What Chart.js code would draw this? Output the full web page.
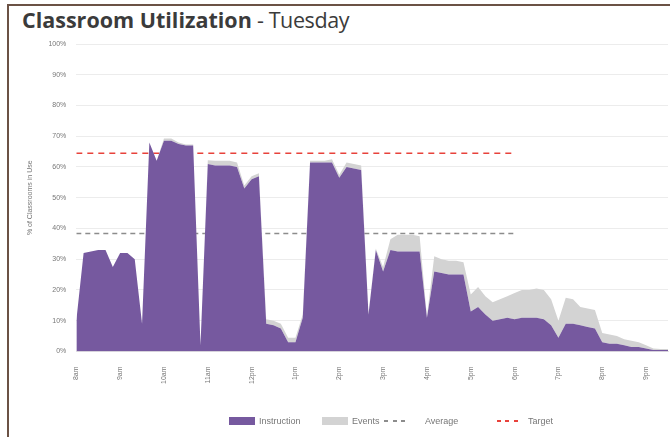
<!DOCTYPE html>
<html>
<head>
<meta charset="utf-8">
<script src="https://cdn.jsdelivr.net/npm/chart.js@4/dist/chart.umd.min.js"></script>
<style>
  body { margin: 0; background: #fff; }
  #frame {
    position: absolute; left: 7px; top: 4px; width: 663px; height: 433px;
    border-left: 2px solid #6b5245; border-top: 2px solid #6b5245;
  }
  #title {
    position: absolute; left: 22px; top: 5px; margin: 0;
    font-family: "Open Sans", "Liberation Sans", sans-serif; font-size: 21.5px;
    color: #3b3b3b; white-space: nowrap;
  }
  #title b { font-weight: 700; }
  #title span { font-weight: 400; letter-spacing: -0.4px; }
  canvas { position: absolute; left: 0; top: 0; }
  #legend {
    position: absolute; left: 229px; top: 416px; height: 12px;
    font-family: "Liberation Sans", Arial, sans-serif; font-size: 9px; color: #777;
  }
  .item { position: absolute; top: 0; display: flex; align-items: center; white-space: nowrap; }
  .swatch { width: 26px; height: 8px; }
  .dash { width: 21px; height: 1.5px; }
</style>
</head>
<body>
<div id="frame"></div>
<h1 id="title"><b>Classroom Utilization</b><span> - Tuesday</span></h1>
<canvas id="chart" width="670" height="437"></canvas>
<div id="legend"></div>
<script>
// 10 minute slots starting at 8:00am
const startHour = 8;
const stepMinutes = 10;
const hourLabels = ['8am', '9am', '10am', '11am', '12pm', '1pm', '2pm', '3pm', '4pm', '5pm', '6pm', '7pm', '8pm', '9pm'];

// % of classrooms used for instruction
const instruction = [
  10, 32, 32.5, 33, 33, 27.5, 32, 32, 30, 9,
  68, 62, 68.5, 68.5, 67.5, 67, 67, 2, 61, 60.5,
  60.5, 60.5, 60, 53, 56, 57, 9, 8.5, 7.5, 3,
  3, 11, 61.5, 61.5, 61.5, 61.5, 56.5, 60, 59.5, 59,
  12, 33, 26, 33, 32.5, 32.5, 32.5, 32.5, 11, 26,
  25.5, 25, 25, 25, 13, 14.5, 12, 10, 10.5, 11,
  10.5, 11, 11, 11, 10.5, 8.5, 4.5, 9, 9, 8.5,
  8, 7.5, 3, 2.5, 2.5, 2, 1.5, 1.5, 1, 0.5,
  0.5, 0.5
];

// % of classrooms used for events (stacked on top)
const events = [
  0, 0, 0, 0, 0, 0, 0, 0, 0, 0,
  0, 0, 0.8, 0.8, 0.5, 0.3, 0.3, 0, 1.2, 1.5,
  1.5, 1.5, 1.5, 1, 1, 1, 1.5, 1.5, 1.5, 1.5,
  1.5, 1, 0.5, 0.5, 0.5, 1, 1, 1.5, 1.5, 1.5,
  0.3, 0.5, 1.5, 3.5, 5.5, 5.5, 5.5, 5, 0.5, 5,
  4.5, 4.5, 4.5, 4, 5.5, 6.5, 6, 6, 6.5, 7,
  8.5, 9, 9, 9.5, 9.5, 8.5, 5.5, 8.5, 8, 6,
  6, 6, 3, 3, 2.5, 2, 2, 1.5, 1, 0.5,
  0.3, 0.3
];

const averageValue = 38.4;
const targetValue = 64.5;
const refLineHours = [8, 18];

const times = instruction.map((v, i) => startHour + i * stepMinutes / 60);

const ctx = document.getElementById('chart').getContext('2d');
const chart = new Chart(ctx, {
  type: 'line',
  data: {
    labels: times,
    datasets: [
      {
        label: 'Instruction',
        data: instruction,
        stack: 'use',
        backgroundColor: '#76599f',
        borderColor: '#76599f',
        borderWidth: 0,
        pointRadius: 0,
        fill: 'origin',
        tension: 0
      },
      {
        label: 'Events',
        data: events,
        stack: 'use',
        backgroundColor: '#d3d3d3',
        borderColor: '#d3d3d3',
        borderWidth: 0,
        pointRadius: 0,
        fill: '-1',
        tension: 0
      },
      {
        label: 'Average',
        data: refLineHours.map(h => ({ x: h, y: averageValue })),
        stack: 'avg',
        borderColor: '#8c8c8c',
        backgroundColor: '#8c8c8c',
        borderWidth: 1.5,
        borderDash: [5, 4],
        pointRadius: 0,
        fill: false
      },
      {
        label: 'Target',
        data: refLineHours.map(h => ({ x: h, y: targetValue })),
        stack: 'tgt',
        borderColor: '#e8423b',
        backgroundColor: '#e8423b',
        borderWidth: 1.5,
        borderDash: [6, 5],
        pointRadius: 0,
        fill: false
      }
    ]
  },
  options: {
    responsive: false,
    animation: false,
    layout: { padding: { left: 22, right: 2, top: 44, bottom: 46 } },
    plugins: {
      legend: { display: false },
      tooltip: { enabled: false }
    },
    scales: {
      x: {
        type: 'linear',
        min: 8,
        max: 21.5,
        grid: { display: false },
        border: { color: '#e4e4e4' },
        ticks: {
          stepSize: 1,
          includeBounds: false,
          padding: 7,
          minRotation: 90,
          maxRotation: 90,
          color: '#777',
          font: { family: 'Liberation Sans', size: 7 },
          callback: v => hourLabels[v - startHour]
        }
      },
      y: {
        stacked: true,
        min: 0,
        max: 100,
        grid: { color: '#ececec', drawTicks: false },
        border: { display: false },
        ticks: {
          stepSize: 10,
          padding: 10,
          color: '#777',
          font: { family: 'Liberation Sans', size: 7 },
          callback: v => v + '%'
        },
        title: {
          display: true,
          text: '% of Classrooms in Use',
          color: '#777',
          font: { family: 'Liberation Sans', size: 7 }
        }
      }
    }
  }
});

// legend built from the chart's datasets
const legendLefts = [0, 93, 155, 268];
const legendGaps = [4, 4, 20, 10];
const legendEl = document.getElementById('legend');
chart.data.datasets.forEach((ds, i) => {
  const item = document.createElement('div');
  item.className = 'item';
  item.style.left = legendLefts[i] + 'px';
  const mark = document.createElement('div');
  if (ds.borderDash) {
    mark.className = 'dash';
    mark.style.background = `repeating-linear-gradient(to right, ${ds.borderColor} 0 4px, transparent 4px 8.5px)`;
  } else {
    mark.className = 'swatch';
    mark.style.background = ds.backgroundColor;
  }
  mark.style.marginRight = legendGaps[i] + 'px';
  const txt = document.createElement('span');
  txt.textContent = ds.label;
  item.appendChild(mark);
  item.appendChild(txt);
  legendEl.appendChild(item);
});
</script>
</body>
</html>
